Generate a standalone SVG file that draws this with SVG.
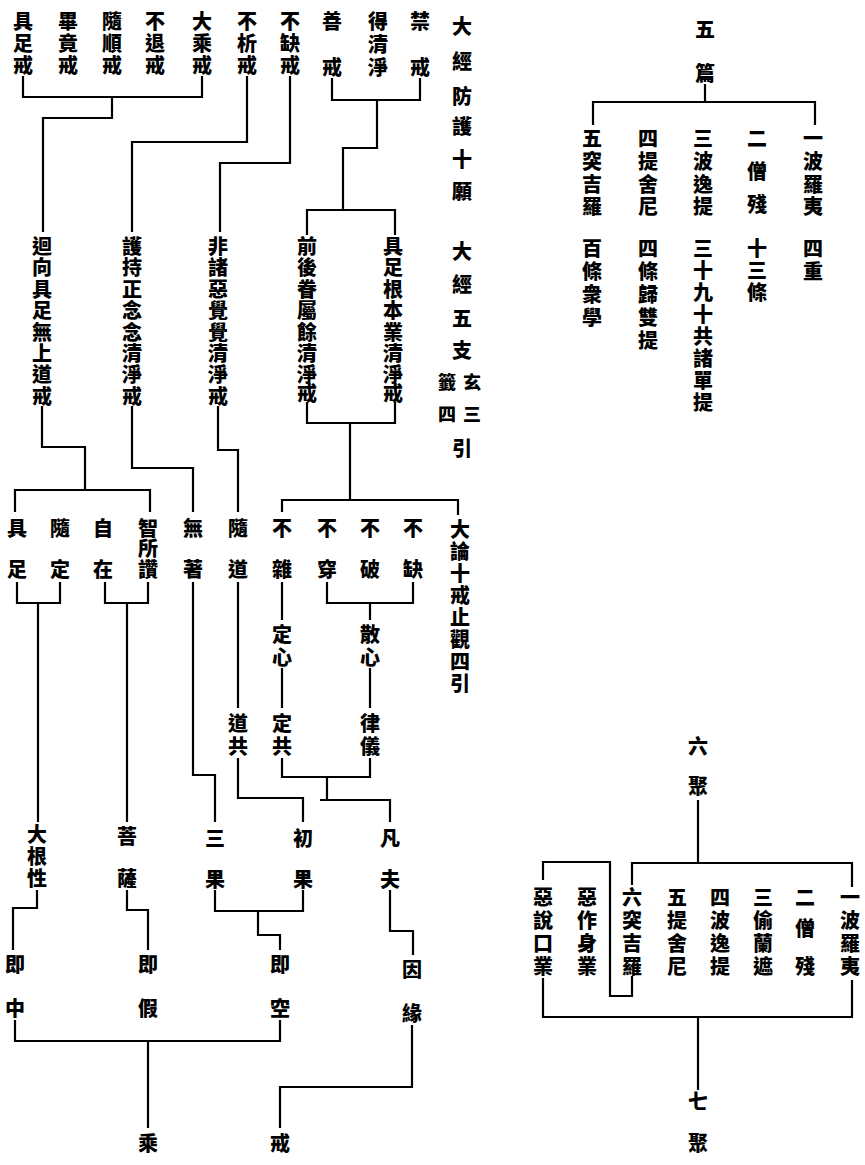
<svg xmlns="http://www.w3.org/2000/svg" width="865" height="1165" viewBox="0 0 865 1165">
<style>
text{font-family:"Noto Sans CJK TC","Noto Sans CJK SC",sans-serif;font-size:20px;font-weight:900;fill:#000;text-anchor:middle;dominant-baseline:central}
text.s{font-size:18px}
#connectors path{fill:none;stroke:#000;stroke-width:2.2}
</style>
<rect width="865" height="1165" fill="#fff"/>
<g id="connectors">
<path d="M23 76V97H202V76M112 97V118H43V232"/>
<path d="M247 76V142H132V232"/>
<path d="M290 76V163H220V232"/>
<path d="M332 78V100H420V78M377 100V148H343V210M307 235V210H395V235"/>
<path d="M42 406V447H85V490M15 512V490H150V512"/>
<path d="M132 406V468H193V512"/>
<path d="M218 406V450H238V512"/>
<path d="M307 402V423H395V402M350 423V500M282 512V500H458V515"/>
<path d="M17 582V603H60V582M38 603V822"/>
<path d="M105 582V603H148V582M127 603V822"/>
<path d="M193 582V775H215V822"/>
<path d="M238 582V708M238 758V798H303V822"/>
<path d="M282 582V620M282 668V708M282 758V777H370V758"/>
<path d="M327 582V603H413V582M370 603V620M370 668V708"/>
<path d="M327 777V800M320 800H390V822"/>
<path d="M37 890V908H13V950"/>
<path d="M127 890V910H148V950"/>
<path d="M215 890V911H303V890M258 911V935H280V950"/>
<path d="M390 890V931H413V955"/>
<path d="M15 1020V1041H280V1020M148 1041V1128"/>
<path d="M412 1025V1087H280V1128"/>
<path d="M705 84V102M593 125V102H815V125"/>
<path d="M698 800V863M632 885V863H852V887M543 880V862H610V996H632V976"/>
<path d="M543 978V1017H852V980M698 1017V1090"/>
</g>
<g id="n-jzj"><text x="23 23 23" y="20 42 64">具足戒</text></g>
<g id="n-bjj"><text x="68 68 68" y="20 42 64">畢竟戒</text></g>
<g id="n-ssj"><text x="112 112 112" y="20 42 64">隨順戒</text></g>
<g id="n-btj"><text x="155 155 155" y="20 42 64">不退戒</text></g>
<g id="n-dcj"><text x="202 202 202" y="20 42 64">大乘戒</text></g>
<g id="n-bxj"><text x="247 247 247" y="20 42 64">不析戒</text></g>
<g id="n-bqj"><text x="290 290 290" y="20 42 64">不缺戒</text></g>
<g id="n-sj"><text x="332 332" y="20 66">善戒</text></g>
<g id="n-dqj"><text x="378 378 378" y="20 43 66">得清淨</text></g>
<g id="n-jj"><text x="420 420" y="20 66">禁戒</text></g>
<g id="n-title1"><text x="462 462 462 462 462 462" y="25 60 95 125 158 190">大經防護十願</text></g>
<g id="n-title2"><text x="462 462 462 462" y="250 283 317 349">大經五支</text><text class="s" x="472 472" y="381 413">玄三</text><text class="s" x="447 447" y="381 413">籤四</text><text x="462" y="447">引</text></g>
<g id="n-hx"><text x="42 42 42 42 42 42 42 42" y="245 266 288 309 331 352 373 395">迴向具足無上道戒</text></g>
<g id="n-hc"><text x="132 132 132 132 132 132 132 132" y="245 266 288 309 331 352 373 395">護持正念念清淨戒</text></g>
<g id="n-fz"><text x="218 218 218 218 218 218 218 218" y="245 266 288 309 331 352 373 395">非諸惡覺覺清淨戒</text></g>
<g id="n-qh"><text x="307 307 307 307 307 307 307 307" y="245 266 288 309 331 352 373 392">前後眷屬餘清淨戒</text></g>
<g id="n-jg"><text x="393 393 393 393 393 393 393 393" y="245 266 288 309 331 352 373 392">具足根本業清淨戒</text></g>
<g id="n-jz"><text x="17 17" y="527 568">具足</text></g>
<g id="n-sd"><text x="60 60" y="527 568">隨定</text></g>
<g id="n-zz"><text x="103 103" y="527 568">自在</text></g>
<g id="n-zsz"><text x="148 148 148" y="527 547 568">智所讚</text></g>
<g id="n-wz"><text x="193 193" y="527 568">無著</text></g>
<g id="n-sdao"><text x="238 238" y="527 568">隨道</text></g>
<g id="n-bz"><text x="282 282" y="527 568">不雜</text></g>
<g id="n-bc"><text x="327 327" y="527 568">不穿</text></g>
<g id="n-bp"><text x="370 370" y="527 568">不破</text></g>
<g id="n-bq"><text x="413 413" y="527 568">不缺</text></g>
<g id="n-title3"><text x="460 460 460 460 460 460 460 460" y="528 550 572 594 616 638 660 682">大論十戒止觀四引</text></g>
<g id="n-dx"><text x="282 282" y="633 656">定心</text></g>
<g id="n-sx"><text x="370 370" y="633 656">散心</text></g>
<g id="n-dg"><text x="238 238" y="722 745">道共</text></g>
<g id="n-dgo"><text x="282 282" y="722 745">定共</text></g>
<g id="n-ly"><text x="370 370" y="722 745">律儀</text></g>
<g id="n-dgx"><text x="37 37 37" y="833 855 877">大根性</text></g>
<g id="n-ps"><text x="127 127" y="835 877">菩薩</text></g>
<g id="n-sg"><text x="215 215" y="837 878">三果</text></g>
<g id="n-cg"><text x="303 303" y="837 878">初果</text></g>
<g id="n-ff"><text x="390 390" y="837 878">凡夫</text></g>
<g id="n-jzh"><text x="15 15" y="963 1007">即中</text></g>
<g id="n-jjia"><text x="148 148" y="963 1007">即假</text></g>
<g id="n-jk"><text x="280 280" y="963 1007">即空</text></g>
<g id="n-yy"><text x="412 412" y="968 1012">因緣</text></g>
<g id="n-cheng"><text x="148" y="1142">乘</text></g>
<g id="n-jie"><text x="280" y="1142">戒</text></g>
<g id="n-wp"><text x="705 705" y="28 72">五篇</text></g>
<g id="n-p5"><text x="592 592 592 592" y="137 160 183 205">五突吉羅</text><text x="592 592 592 592" y="247 270 293 316">百條衆學</text></g>
<g id="n-p4"><text x="648 648 648 648" y="137 160 183 205">四提舍尼</text><text x="648 648 648 648 648" y="247 270 293 316 339">四條歸雙提</text></g>
<g id="n-p3"><text x="703 703 703 703" y="137 160 183 205">三波逸提</text><text x="703 703 703 703 703 703 703 703" y="247 269 291 313 335 357 379 401">三十九十共諸單提</text></g>
<g id="n-p2"><text x="757 757 757" y="137 170 203">二僧殘</text><text x="757 757 757" y="247 269 291">十三條</text></g>
<g id="n-p1"><text x="813 813 813 813" y="137 160 183 205">一波羅夷</text><text x="813 813" y="247 270">四重</text></g>
<g id="n-lj"><text x="698 698" y="745 785">六聚</text></g>
<g id="n-q1"><text x="850 850 850 850" y="896 919 942 965">一波羅夷</text></g>
<g id="n-q2"><text x="805 805 805" y="896 927 965">二僧殘</text></g>
<g id="n-q3"><text x="763 763 763 763" y="896 919 942 965">三偷蘭遮</text></g>
<g id="n-q4"><text x="720 720 720 720" y="896 919 942 965">四波逸提</text></g>
<g id="n-q5"><text x="677 677 677 677" y="896 919 942 965">五提舍尼</text></g>
<g id="n-q6"><text x="632 632 632 632" y="896 919 942 965">六突吉羅</text></g>
<g id="n-q7"><text x="587 587 587 587" y="896 919 942 965">惡作身業</text></g>
<g id="n-q8"><text x="543 543 543 543" y="896 919 942 965">惡說口業</text></g>
<g id="n-qj"><text x="698 698" y="1100 1142">七聚</text></g>
</svg>
